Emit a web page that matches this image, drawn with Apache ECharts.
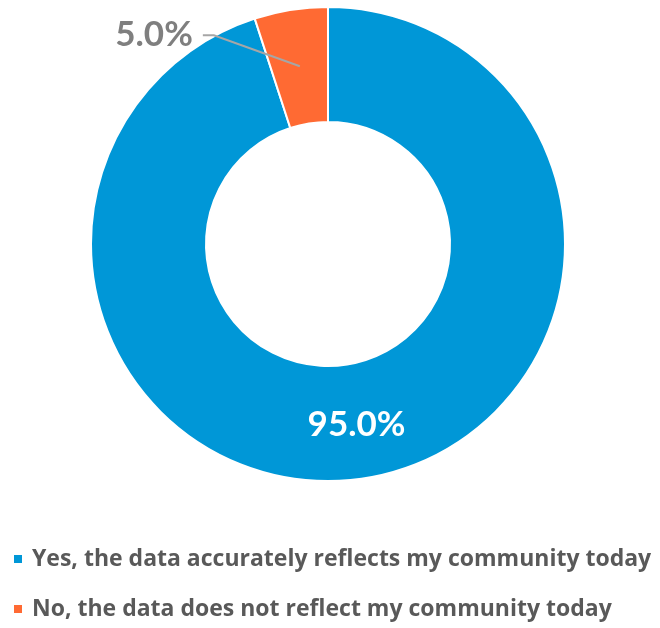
<!DOCTYPE html>
<html>
<head>
<meta charset="utf-8">
<title>Community data survey</title>
<script src="https://cdn.jsdelivr.net/npm/echarts@6/dist/echarts.min.js"></script>
<style>
  html, body { margin: 0; padding: 0; background: #ffffff; }
  #chart { width: 660px; height: 628px; }
</style>
</head>
<body>
<div id="chart"></div>
<script>
// Survey answers and their shares (percent)
const categories = [
  'Yes, the data accurately reflects my community today',
  'No, the data does not reflect my community today'
];
const shares = [95.0, 5.0];
const sliceColors = ['#0097D7', '#FF6A33'];

const FONT = 'Lato, "Open Sans", "Noto Sans", sans-serif';
const LEGEND_FONT = '"Open Sans", Lato, "Noto Sans", sans-serif';

const pieData = categories.map((name, i) => ({
  name: name,
  value: shares[i],
  itemStyle: { color: sliceColors[i] }
}));

const fmtPct = p => p.value.toFixed(1) + '%';

const chart = echarts.init(document.getElementById('chart'), null, { renderer: 'canvas' });

chart.setOption({
  animation: false,
  backgroundColor: '#ffffff',
  legend: {
    orient: 'vertical',
    left: 12,
    top: 547,
    padding: 0,
    height: 81,
    itemWidth: 10,
    itemHeight: 10,
    itemGap: 26,
    icon: 'rect',
    data: categories,
    textStyle: {
      fontFamily: LEGEND_FONT,
      fontWeight: 'bold',
      fontSize: 23,
      color: '#595959',
      lineHeight: 24,
      padding: [0, 0, 0, 4]
    }
  },
  series: [
    {
      // the ring itself; the large share is labelled inside its slice
      type: 'pie',
      z: 2,
      center: [328, 244],
      radius: [122, 237],
      startAngle: 90,
      clockwise: true,
      avoidLabelOverlap: false,
      itemStyle: { borderColor: '#ffffff', borderWidth: 2 },
      label: { show: false },
      labelLine: { show: false },
      data: pieData.map((d, i) => Object.assign({}, d, i === 0 ? {
        label: {
          show: true,
          position: 'inside',
          formatter: fmtPct,
          fontFamily: FONT,
          fontWeight: 'bold',
          fontSize: 35,
          color: '#ffffff'
        }
      } : {}))
    },
    {
      // invisible helper ring whose outer edge sits mid-band, so the
      // small share's leader line starts inside its slice
      type: 'pie',
      z: 5,
      center: [328, 244],
      radius: [0, 180],
      startAngle: 90,
      clockwise: true,
      silent: true,
      avoidLabelOverlap: false,
      itemStyle: { color: 'rgba(0,0,0,0)', borderWidth: 0 },
      label: { show: false },
      labelLine: { show: false },
      labelLayout: function (params) {
        if (params.dataIndex !== 1 || !params.labelLinePoints) return {};
        const a = params.labelLinePoints[0];
        const bend = [a[0] - 86, a[1] - 31];
        const end = [bend[0] - 11, bend[1]];
        return {
          x: end[0] - 10,
          y: end[1],
          align: 'right',
          verticalAlign: 'middle',
          labelLinePoints: [a, bend, end]
        };
      },
      data: pieData.map((d, i) => ({
        name: d.name,
        value: d.value,
        label: i === 1 ? {
          show: true,
          position: 'outside',
          formatter: fmtPct,
          fontFamily: FONT,
          fontWeight: 'bold',
          fontSize: 35,
          color: '#7F7F7F'
        } : { show: false },
        labelLine: i === 1 ? {
          show: true,
          length: 10,
          length2: 10,
          lineStyle: { color: '#A6A6A6', width: 2 }
        } : { show: false }
      }))
    }
  ]
});
</script>
</body>
</html>
